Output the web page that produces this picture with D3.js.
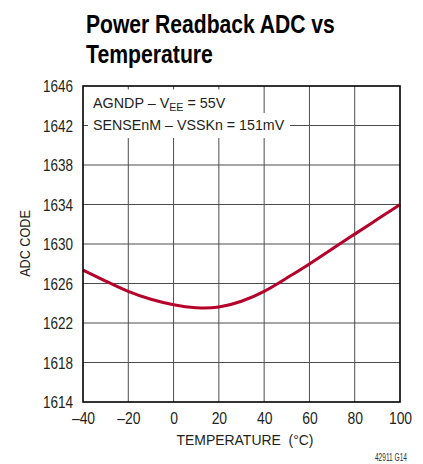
<!DOCTYPE html>
<html>
<head>
<meta charset="utf-8">
<script src="https://cdn.jsdelivr.net/npm/d3@7"></script>
<style>
  html, body { margin: 0; padding: 0; background: #fff; }
  svg { display: block; }
  text { font-family: "Liberation Sans", Arial, sans-serif; fill: #231f20; }
</style>
</head>
<body>
<svg id="chart" width="423" height="464"></svg>
<script>
// ---- data ----
const temperatures = [-40, -30, -20, -10, 0, 10, 20, 30, 40, 50, 60, 70, 80, 90, 100];
const adcCodes = [1627.35, 1626.25, 1625.2, 1624.4, 1623.85, 1623.55, 1623.62, 1624.2, 1625.2, 1626.55, 1627.98, 1629.5, 1631.0, 1632.5, 1634.0];
const xTicks = [-40, -20, 0, 20, 40, 60, 80, 100];
const yTicks = [1614, 1618, 1622, 1626, 1630, 1634, 1638, 1642, 1646];
const titleLines = ["Power Readback ADC vs", "Temperature"];
const xTitle = "TEMPERATURE  (°C)";
const yTitle = "ADC CODE";
const footnote = "42911 G14";

(function () {
const svg = d3.select("#chart");
const pl = 83, pr = 400, pt = 86, pb = 402;
const x = d3.scaleLinear().domain([-40, 100]).range([pl, pr]);
const y = d3.scaleLinear().domain([1614, 1646]).range([pb, pt]);

// squeeze a text horizontally (condensed face emulation)
function squeeze(node, f, extra) {
  const t = d3.select(node);
  const tx = +t.attr("x") || 0, ty = +t.attr("y") || 0;
  t.attr("x", 0).attr("y", 0)
   .attr("transform", `translate(${tx},${ty})${extra || ""} scale(${f},1)`);
}
function fitWidth(node, target, extra) {
  const w = node.getBBox().width;
  squeeze(node, target / w, extra);
}

// title
const titleW = [249, 127];
titleLines.forEach((t, i) => {
  const n = svg.append("text").attr("x", 86).attr("y", 32.5 + i * 30)
    .attr("font-size", 26).attr("font-weight", "bold")
    .style("fill", "#000").text(t).node();
  fitWidth(n, titleW[i]);
});

// grid
const grid = svg.append("g");
grid.selectAll("line.v").data(xTicks.slice(1, -1)).join("line").attr("class", "v")
  .attr("x1", d => x(d)).attr("x2", d => x(d)).attr("y1", pt).attr("y2", pb)
  .attr("stroke", "#4d4d4d").attr("stroke-width", 1);
grid.selectAll("line.h").data(yTicks.slice(1, -1)).join("line").attr("class", "h")
  .attr("x1", pl).attr("x2", pr).attr("y1", d => y(d)).attr("y2", d => y(d))
  .attr("stroke", "#4d4d4d").attr("stroke-width", 1);

// annotation boxes (white backgrounds that break the grid)
svg.append("rect").attr("x", 88).attr("y", 89.5).attr("width", 170).attr("height", 24).attr("fill", "#fff");
svg.append("rect").attr("x", 88).attr("y", 113).attr("width", 202).attr("height", 25).attr("fill", "#fff");

const a1 = svg.append("text").attr("x", 93).attr("y", 108).attr("font-size", 15.5);
a1.append("tspan").text("AGNDP – V");
a1.append("tspan").attr("font-size", 11.5).attr("dy", 3).text("EE");
a1.append("tspan").attr("dy", -3).text(" = 55V");
fitWidth(a1.node(), 133);
const a2 = svg.append("text").attr("x", 93).attr("y", 129.5).attr("font-size", 15.5).text("SENSEnM – VSSKn = 151mV");
fitWidth(a2.node(), 192);

// curve
const line = d3.line().x((d, i) => x(temperatures[i])).y(d => y(d)).curve(d3.curveNatural);
svg.append("path").datum(adcCodes).attr("d", line)
  .attr("fill", "none").attr("stroke", "#b5002b").attr("stroke-width", 3).attr("stroke-linejoin", "round");

// frame
svg.append("rect").attr("x", pl).attr("y", pt).attr("width", pr - pl).attr("height", pb - pt)
  .attr("fill", "none").attr("stroke", "#000").attr("stroke-width", 1.6);

// axes labels
const xAxis = d3.axisBottom(x).tickValues(xTicks).tickSize(0).tickPadding(0)
  .tickFormat(d => d < 0 ? "–" + Math.abs(d) : String(d));
const gx = svg.append("g").attr("transform", `translate(0,${pb})`).call(xAxis);
gx.select(".domain").remove();
gx.attr("font-family", null).attr("font-size", null);
gx.selectAll("text").attr("font-size", 16).attr("dy", null).attr("y", 21.5).style("fill", "#231f20")
  .each(function () { squeeze(this, 0.87); });

const yAxis = d3.axisLeft(y).tickValues(yTicks).tickSize(0).tickPadding(0).tickFormat(d3.format("d"));
const gy = svg.append("g").attr("transform", `translate(73,0)`).call(yAxis);
gy.select(".domain").remove();
gy.attr("font-family", null).attr("font-size", null);
gy.selectAll("text").attr("font-size", 16).attr("dy", "0.36em").attr("x", 0).style("fill", "#231f20")
  .each(function () { squeeze(this, 0.845); });

const xt = svg.append("text").attr("x", 245).attr("y", 444.5).attr("text-anchor", "middle")
  .attr("font-size", 15).style("white-space", "pre").text(xTitle);
fitWidth(xt.node(), 137);
const yt = svg.append("text").attr("x", 29.5).attr("y", 243.5).attr("text-anchor", "middle")
  .attr("font-size", 14.5).text(yTitle);
fitWidth(yt.node(), 67, " rotate(-90)");
const fn = svg.append("text").attr("x", 407).attr("y", 461).attr("text-anchor", "end")
  .attr("font-size", 11.5).style("fill", "#333").text(footnote);
fitWidth(fn.node(), 32.5);
})();
</script>
</body>
</html>
